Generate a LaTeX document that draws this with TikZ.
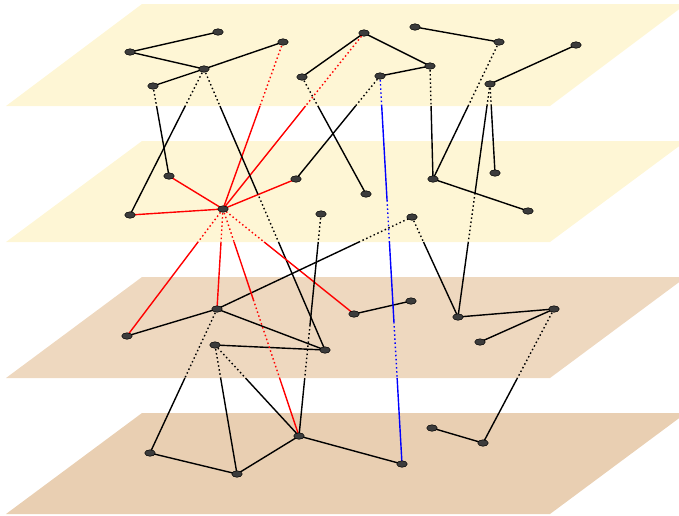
\documentclass[tikz,border=0pt]{standalone}
\usetikzlibrary{shapes.geometric,calc}
\definecolor{planeA}{RGB}{254,246,213}
\definecolor{planeC}{RGB}{238,216,191}
\definecolor{planeD}{RGB}{233,207,178}
\definecolor{nodegray}{RGB}{60,60,60}
\pgfdeclarelayer{background}
\pgfdeclarelayer{edges}
\pgfsetlayers{background,edges,main}
\tikzset{
  vert/.style={ellipse,draw=black,line width=0.5pt,fill=nodegray,minimum width=10.5pt,minimum height=6.5pt,inner sep=0pt},
  solidedge/.style={line width=1.4pt},
  hidden/.style={line width=1.4pt,dash pattern=on 1.5pt off 2.6pt},
  plane/.style={draw=none}
}
\newcommand\hseg[5][black]{\draw[hidden,#1] ($(#2.center)!#4!(#3.center)$) -- ($(#2.center)!#5!(#3.center)$);}
\newcommand\sseg[5][black]{\draw[solidedge,#1] ($(#2.center)!#4!(#3.center)$) -- ($(#2.center)!#5!(#3.center)$);}
\begin{document}
\begin{tikzpicture}[x=1pt,y=-1pt]
\useasboundingbox (0,0) rectangle (679,515);
\clip (0,0) rectangle (679,515);
% planes
\begin{pgfonlayer}{background}
\fill[planeA] (6,106) -- (550,106) -- (686,4) -- (142,4) -- cycle;
\fill[planeA] (6,242) -- (550,242) -- (686,141) -- (142,141) -- cycle;
\fill[planeC] (6,378) -- (550,378) -- (686,277) -- (142,277) -- cycle;
\fill[planeD] (6,514) -- (550,514) -- (686,413) -- (142,413) -- cycle;
\end{pgfonlayer}
% layer 1
\node[vert] (a1) at (218,32) {};
\node[vert] (a2) at (130,52) {};
\node[vert] (a3) at (283,42) {};
\node[vert] (a4) at (204,69) {};
\node[vert] (a5) at (153,86) {};
\node[vert] (a6) at (302,77) {};
\node[vert] (a7) at (364,33) {};
\node[vert] (a8) at (415,27) {};
\node[vert] (a9) at (499,42) {};
\node[vert] (a10) at (430,66) {};
\node[vert] (a11) at (380,76) {};
\node[vert] (a12) at (576,45) {};
\node[vert] (a13) at (490,84) {};
% layer 2
\node[vert] (b1) at (169,176) {};
\node[vert] (b2) at (130,215) {};
\node[vert] (b3) at (223,209) {};
\node[vert] (b4) at (296,179) {};
\node[vert] (b5) at (321,214) {};
\node[vert] (b6) at (366,194) {};
\node[vert] (b7) at (412,217) {};
\node[vert] (b8) at (433,179) {};
\node[vert] (b9) at (495,173) {};
\node[vert] (b10) at (528,211) {};
% layer 3
\node[vert] (c1) at (127,336) {};
\node[vert] (c2) at (217,309) {};
\node[vert] (c3) at (215,345) {};
\node[vert] (c4) at (325,350) {};
\node[vert] (c5) at (354,314) {};
\node[vert] (c6) at (411,301) {};
\node[vert] (c7) at (458,317) {};
\node[vert] (c8) at (554,309) {};
\node[vert] (c9) at (480,342) {};
% layer 4
\node[vert] (d1) at (150,453) {};
\node[vert] (d2) at (237,474) {};
\node[vert] (d3) at (299,436) {};
\node[vert] (d4) at (402,464) {};
\node[vert] (d5) at (432,428) {};
\node[vert] (d6) at (483,443) {};
\begin{pgfonlayer}{edges}
% intra-layer edges
\draw[solidedge] (a2.center) -- (a1.center);
\draw[solidedge] (a2.center) -- (a4.center);
\draw[solidedge] (a4.center) -- (a3.center);
\draw[solidedge] (a4.center) -- (a5.center);
\draw[solidedge] (a6.center) -- (a7.center);
\draw[solidedge] (a7.center) -- (a10.center);
\draw[solidedge] (a11.center) -- (a10.center);
\draw[solidedge] (a8.center) -- (a9.center);
\draw[solidedge] (a13.center) -- (a12.center);
\draw[solidedge] (b8.center) -- (b10.center);
\draw[solidedge,red] (b1.center) -- (b3.center);
\draw[solidedge,red] (b2.center) -- (b3.center);
\draw[solidedge,red] (b3.center) -- (b4.center);
\draw[solidedge] (c1.center) -- (c2.center);
\draw[solidedge] (c2.center) -- (c4.center);
\draw[solidedge] (c3.center) -- (c4.center);
\draw[solidedge] (c5.center) -- (c6.center);
\draw[solidedge] (c7.center) -- (c8.center);
\draw[solidedge] (c9.center) -- (c8.center);
\draw[solidedge] (d1.center) -- (d2.center);
\draw[solidedge] (d2.center) -- (d3.center);
\draw[solidedge] (d3.center) -- (d4.center);
\draw[solidedge] (d5.center) -- (d6.center);
% layer 1 -> 2
\hseg{a5}{b1}{0}{0.222}\sseg{a5}{b1}{0.222}{1}
\hseg{a4}{b2}{0}{0.253}\sseg{a4}{b2}{0.253}{1}
\hseg[red]{a3}{b3}{0}{0.383}\sseg[red]{a3}{b3}{0.383}{1}
\hseg[red]{a7}{b3}{0}{0.415}\sseg[red]{a7}{b3}{0.415}{1}
\hseg{a6}{b6}{0}{0.248}\sseg{a6}{b6}{0.248}{1}
\hseg{a11}{b4}{0}{0.291}\sseg{a11}{b4}{0.291}{1}
\hseg{a10}{b8}{0}{0.354}\sseg{a10}{b8}{0.354}{1}
\hseg{a9}{b8}{0}{0.467}\sseg{a9}{b8}{0.467}{1}
\hseg{a13}{b9}{0}{0.247}\sseg{a13}{b9}{0.247}{1}
% layer 1 -> 3
\hseg{a4}{c4}{0}{0.132}\sseg{a4}{c4}{0.132}{0.441}\hseg{a4}{c4}{0.441}{0.616}\sseg{a4}{c4}{0.616}{1}
\hseg{a13}{c7}{0}{0.094}\sseg{a13}{c7}{0.094}{0.468}\hseg{a13}{c7}{0.468}{0.678}\sseg{a13}{c7}{0.678}{1}
% layer 1 -> 4
\hseg[blue]{a11}{d4}{0}{0.077}\sseg[blue]{a11}{d4}{0.077}{0.320}\hseg[blue]{a11}{d4}{0.320}{0.428}\sseg[blue]{a11}{d4}{0.428}{0.634}\hseg[blue]{a11}{d4}{0.634}{0.778}\sseg[blue]{a11}{d4}{0.778}{1}
% layer 2 -> 3
\hseg[red]{b3}{c1}{0}{0.26}\sseg[red]{b3}{c1}{0.26}{1}
\hseg[red]{b3}{c2}{0}{0.33}\sseg[red]{b3}{c2}{0.33}{1}
\hseg[red]{b3}{c5}{0}{0.314}\sseg[red]{b3}{c5}{0.314}{1}
\hseg{b7}{c2}{0}{0.272}\sseg{b7}{c2}{0.272}{1}
\hseg{b7}{c7}{0}{0.25}\sseg{b7}{c7}{0.25}{1}
% layer 2 -> 4
\hseg[red]{b3}{d3}{0}{0.145}\sseg[red]{b3}{d3}{0.145}{0.40}\hseg[red]{b3}{d3}{0.40}{0.744}\sseg[red]{b3}{d3}{0.744}{1}
\hseg{b5}{d3}{0}{0.126}\sseg{b5}{d3}{0.126}{0.5}\hseg{b5}{d3}{0.5}{0.739}\sseg{b5}{d3}{0.739}{1}
% layer 3 -> 4
\hseg{c2}{d1}{0}{0.479}\sseg{c2}{d1}{0.479}{1}
\hseg{c3}{d2}{0}{0.256}\sseg{c3}{d2}{0.256}{1}
\hseg{c3}{d3}{0}{0.363}\sseg{c3}{d3}{0.363}{1}
\hseg{c8}{d6}{0}{0.515}\sseg{c8}{d6}{0.515}{1}
\end{pgfonlayer}
\end{tikzpicture}
\end{document}
